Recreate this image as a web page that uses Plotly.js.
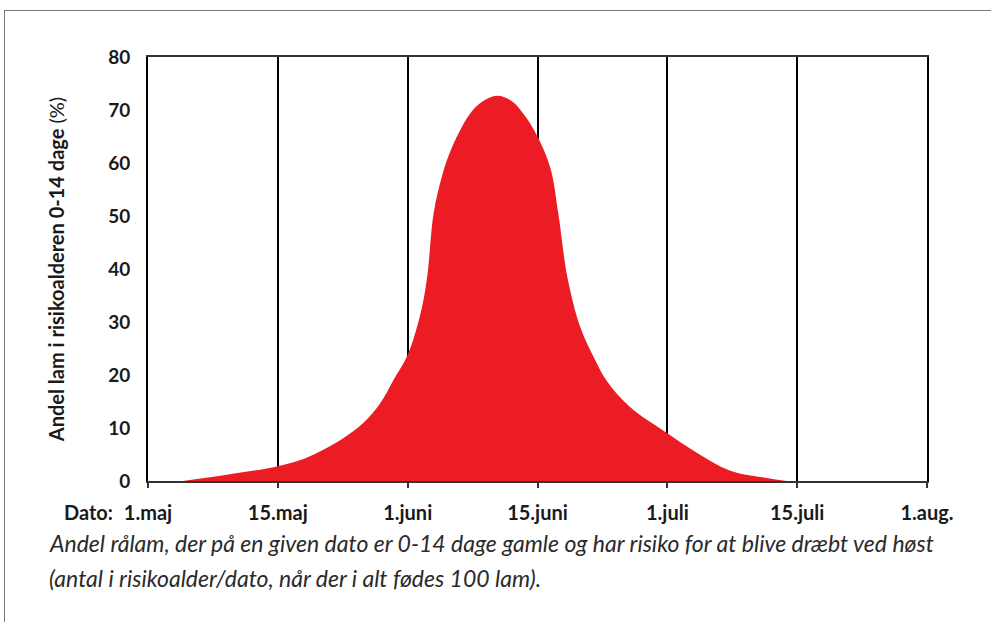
<!DOCTYPE html>
<html>
<head>
<meta charset="utf-8">
<script src="https://cdn.plot.ly/plotly-3.0.1.min.js"></script>
<style>
  html, body { margin: 0; padding: 0; background: #fff; }
  #wrap { position: relative; width: 991px; height: 622px; }
  #chart { width: 991px; height: 622px; }
  #frame { position: absolute; left: 4px; top: 10px; right: 0; bottom: 0;
           border-top: 1.5px solid #777; border-left: 1.5px solid #777; pointer-events: none; }
</style>
</head>
<body>
<div id="wrap">
  <div id="chart"></div>
  <div id="frame"></div>
</div>
<script>
// Tick labels (equally spaced on the axis)
const tickLabels = ["1.maj", "15.maj", "1.juni", "15.juni", "1.juli", "15.juli", "1.aug."];
const tickPos = [0, 1, 2, 3, 4, 5, 6];

// Curve: position along the date axis (in tick intervals) and share of lambs at risk (%)
const xPos = [0.27, 0.58, 1.00, 1.23, 1.48, 1.66, 1.79, 1.89, 2.00, 2.10, 2.15, 2.20, 2.27, 2.33, 2.40, 2.48,
              2.57, 2.69, 2.80, 2.90, 3.00, 3.10, 3.16, 3.23, 3.33, 3.44, 3.53, 3.71, 4.00, 4.23, 4.48, 4.73, 4.92];
const share = [0.0, 1.1, 2.8, 4.5, 7.7, 11.0, 14.7, 19.0, 23.8, 31.7, 38.5, 50.5, 58.0, 62.3, 66.0, 69.3,
               71.5, 72.7, 71.7, 69.0, 65.0, 59.0, 50.5, 38.5, 29.0, 23.0, 19.0, 14.0, 9.0, 5.3, 2.0, 0.7, 0.0];

const yTitle = "<b>Andel lam i risikoalderen 0-14 dage</b> (%)";
const caption1 = "Andel rålam, der på en given dato er 0-14 dage gamle og har risiko for at blive dræbt ved høst";
const caption2 = "(antal i risikoalder/dato, når der i alt fødes 100 lam).";

const trace = {
  x: xPos, y: share, type: "scatter", mode: "lines",
  line: { color: "#ec1c24", width: 0, shape: "spline", smoothing: 1 },
  fill: "tozeroy", fillcolor: "#ec1c24", hoverinfo: "skip"
};

const layout = {
  width: 991, height: 622,
  margin: { l: 148, r: 64, t: 57, b: 141 },
  paper_bgcolor: "#fff", plot_bgcolor: "#fff",
  showlegend: false,
  font: { family: "Lato, 'Liberation Sans', sans-serif", color: "#1a1a1a" },
  xaxis: {
    range: [0, 6], tickvals: tickPos, ticktext: tickLabels,
    showgrid: true, gridcolor: "#000", gridwidth: 2,
    showline: true, linecolor: "#333", linewidth: 2, mirror: true,
    ticks: "outside", ticklen: 5, tickwidth: 2, tickcolor: "#333",
    ticklabelstandoff: 8,
    tickfont: { size: 20, weight: "bold", color: "#1a1a1a" },
    zeroline: false, fixedrange: true
  },
  yaxis: {
    range: [0, 80], dtick: 10, showgrid: false,
    showline: true, linecolor: "#000", linewidth: 2, mirror: true,
    ticks: "", ticklabelstandoff: 12,
    tickfont: { size: 19, weight: "bold", color: "#1a1a1a" },
    title: { text: yTitle, font: { size: 20, color: "#1a1a1a" }, standoff: 38 },
    zeroline: false, fixedrange: true
  },
  annotations: [
    { text: "<b>Dato:</b>", xref: "paper", yref: "paper", x: -0.077, y: -0.072,
      xanchor: "center", yanchor: "middle", showarrow: false, font: { size: 20, color: "#1a1a1a" } },
    { text: "<i>" + caption1 + "</i>", xref: "paper", yref: "paper", x: -0.130, y: -0.146,
      xanchor: "left", yanchor: "middle", showarrow: false, font: { size: 23, color: "#2a2a2a" } },
    { text: "<i>" + caption2 + "</i>", xref: "paper", yref: "paper", x: -0.130, y: -0.229,
      xanchor: "left", yanchor: "middle", showarrow: false, font: { size: 23, color: "#2a2a2a" } }
  ]
};

Plotly.newPlot("chart", [trace], layout, { staticPlot: true, displayModeBar: false });
</script>
</body>
</html>
